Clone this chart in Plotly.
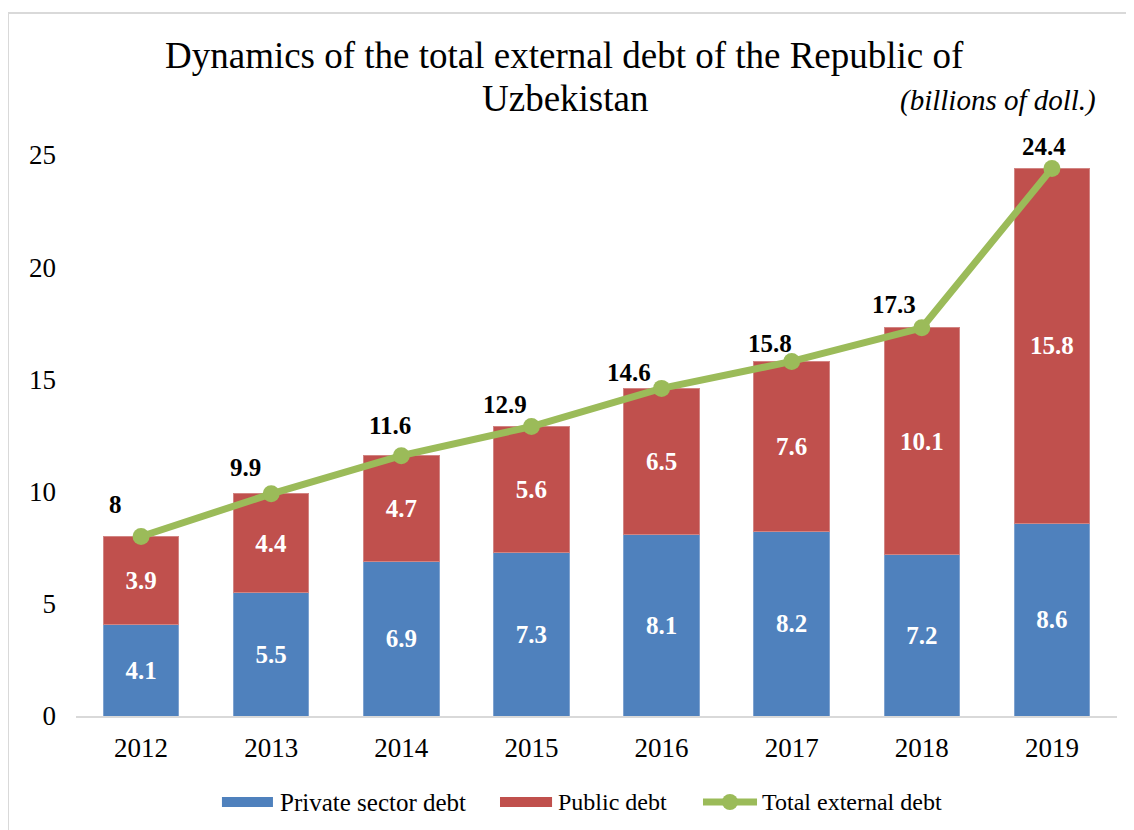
import plotly.graph_objects as go

years = ["2012", "2013", "2014", "2015", "2016", "2017", "2018", "2019"]
private_debt = [4.1, 5.5, 6.9, 7.3, 8.1, 8.2, 7.2, 8.6]
public_debt = [3.9, 4.4, 4.7, 5.6, 6.5, 7.6, 10.1, 15.8]
total_debt = [8, 9.9, 11.6, 12.9, 14.6, 15.8, 17.3, 24.4]

serif = "Liberation Serif"
blue, red, green = "#4F81BD", "#C0504D", "#9BBB59"
# pixel offsets of the total labels from their points
label_dx = [-26, -26, -11, -26, -33, -22, -28, -8]
label_dy = [32, 26, 30, 22, 16, 18, 23, 22]

fig = go.Figure()
fig.add_trace(go.Bar(
    x=years, y=private_debt, name="Private sector debt", showlegend=False,
    marker=dict(color=blue, line=dict(color="#7FA3D0", width=1)),
    text=private_debt, textposition="inside", insidetextanchor="middle",
    textfont=dict(family=serif, size=25, color="white", weight="bold"),
))
fig.add_trace(go.Bar(
    x=years, y=public_debt, name="Public debt", showlegend=False,
    marker=dict(color=red, line=dict(color="#D28583", width=1)),
    text=public_debt, textposition="inside", insidetextanchor="middle",
    textfont=dict(family=serif, size=25, color="white", weight="bold"),
))
fig.add_trace(go.Scatter(
    x=years, y=total_debt, name="Total external debt", showlegend=False,
    mode="lines+markers",
    line=dict(color=green, width=7),
    marker=dict(color=green, size=17),
    cliponaxis=False,
))

# total labels, placed by category index on the category axis
for i, (v, dx, dy) in enumerate(zip(total_debt, label_dx, label_dy)):
    fig.add_annotation(
        x=i, y=v, text=f"<b>{v:g}</b>", showarrow=False,
        xanchor="center", yanchor="middle", xshift=dx, yshift=dy,
        font=dict(family=serif, size=25, color="black"),
    )

# title lines and unit note
fig.add_annotation(text="Dynamics of the total external debt of the Republic of",
                   xref="paper", yref="paper", x=0.4697, y=1.178,
                   xanchor="center", yanchor="middle", showarrow=False,
                   font=dict(family=serif, size=37, color="black"))
fig.add_annotation(text="Uzbekistan",
                   xref="paper", yref="paper", x=0.4697, y=1.1016,
                   xanchor="center", yanchor="middle", showarrow=False,
                   font=dict(family=serif, size=37, color="black"))
fig.add_annotation(text="<i>(billions of doll.)</i>",
                   xref="paper", yref="paper", x=0.9817, y=1.098,
                   xanchor="right", yanchor="middle", showarrow=False,
                   font=dict(family=serif, size=29, color="black"))

# outer frame
fig.add_shape(type="rect", xref="paper", yref="paper",
              x0=-0.0653, y0=-0.3, x1=1.1, y1=1.2531,
              line=dict(color="#D9D9D9", width=2), layer="below")

# legend drawn by hand to get the wide Excel-style swatches
leg_y = -0.1533
fig.add_shape(type="rect", xref="paper", yref="paper",
              x0=0.1402, x1=0.1892, y0=-0.1622, y1=-0.1444,
              fillcolor=blue, line=dict(width=0))
fig.add_shape(type="rect", xref="paper", yref="paper",
              x0=0.4073, x1=0.4573, y0=-0.1622, y1=-0.1444,
              fillcolor=red, line=dict(width=0))
fig.add_shape(type="line", xref="paper", yref="paper",
              x0=0.6023, x1=0.6542, y0=leg_y, y1=leg_y,
              line=dict(color=green, width=7))
fig.add_shape(type="circle", xref="paper", yref="paper",
              x0=0.6282 - 8 / 1041, x1=0.6282 + 8 / 1041,
              y0=leg_y - 8 / 561, y1=leg_y + 8 / 561,
              fillcolor=green, line=dict(width=0))
for txt, lx, sz in [("Private sector debt", 0.1940, 25), ("Public debt", 0.4611, 24),
                    ("Total external debt", 0.6571, 24)]:
    fig.add_annotation(text=txt, xref="paper", yref="paper", x=lx, y=leg_y,
                       xanchor="left", yanchor="middle", showarrow=False,
                       font=dict(family=serif, size=sz, color="black"))

fig.update_layout(
    width=1126, height=822,
    margin=dict(l=68, r=17, t=147, b=114),
    paper_bgcolor="white", plot_bgcolor="white",
    barmode="stack", bargap=0.42,
    font=dict(family=serif, color="black"),
    showlegend=False,
    xaxis=dict(
        type="category", range=[-0.5, 7.5],
        showline=True, linecolor="#D9D9D9", linewidth=2, showgrid=False,
        ticks="", tickfont=dict(family=serif, size=27), ticklabelstandoff=7,
    ),
    yaxis=dict(
        range=[0, 25], dtick=5, showgrid=False, zeroline=False, showline=False,
        tickfont=dict(family=serif, size=27), ticklabelstandoff=19,
    ),
)

fig.write_html("out.html")
